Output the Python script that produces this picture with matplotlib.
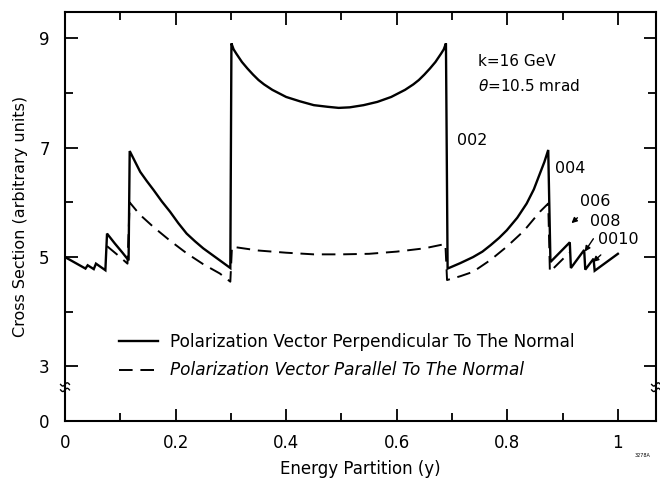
import numpy as np
import matplotlib
matplotlib.use("Agg")
import matplotlib.pyplot as plt
from matplotlib.lines import Line2D

# perpendicular polarization (solid)
perp_x = [0.000, 0.037, 0.041, 0.052, 0.056, 0.073, 0.076, 0.090, 0.104, 0.115,
          0.117, 0.125, 0.136, 0.148, 0.160, 0.175, 0.190, 0.205, 0.220, 0.235,
          0.250, 0.265, 0.280, 0.299,
          0.301, 0.305, 0.310, 0.320, 0.330, 0.340, 0.350, 0.360, 0.375, 0.400,
          0.425, 0.450, 0.475, 0.495, 0.515, 0.540, 0.565, 0.590, 0.615, 0.630,
          0.640, 0.650, 0.660, 0.670, 0.680, 0.685, 0.689,
          0.692, 0.715, 0.738, 0.755, 0.770, 0.785, 0.799, 0.818, 0.835, 0.848,
          0.859, 0.867, 0.874,
          0.878, 0.913, 0.915, 0.939, 0.941, 0.956, 0.958, 1.000]
perp_y = [5.00, 4.79, 4.85, 4.78, 4.88, 4.76, 5.43, 5.25, 5.08, 4.94,
          6.94, 6.78, 6.56, 6.39, 6.23, 6.02, 5.83, 5.62, 5.43, 5.29,
          5.16, 5.05, 4.94, 4.80,
          8.91, 8.80, 8.72, 8.57, 8.45, 8.34, 8.24, 8.16, 8.06, 7.93,
          7.85, 7.78, 7.75, 7.73, 7.74, 7.78, 7.84, 7.93, 8.06, 8.16,
          8.24, 8.34, 8.45, 8.57, 8.72, 8.80, 8.91,
          4.79, 4.89, 5.00, 5.10, 5.22, 5.35, 5.49, 5.72, 5.98, 6.24,
          6.53, 6.74, 6.96,
          4.91, 5.27, 4.80, 5.13, 4.77, 4.97, 4.75, 5.06]

# parallel polarization (dashed)
par_x = [0.076, 0.095, 0.113, 0.117, 0.135, 0.160, 0.190, 0.220, 0.250, 0.280, 0.299,
         0.302, 0.350, 0.400, 0.450, 0.500, 0.550, 0.600, 0.650, 0.688,
         0.691, 0.715, 0.738, 0.770, 0.799, 0.830, 0.859, 0.874, 0.877, 0.912]
par_y = [5.20, 5.04, 4.88, 6.00, 5.78, 5.55, 5.30, 5.07, 4.87, 4.70, 4.55,
         5.19, 5.12, 5.08, 5.05, 5.05, 5.06, 5.10, 5.16, 5.24,
         4.58, 4.65, 4.73, 4.95, 5.19, 5.48, 5.83, 5.98, 4.73, 5.08]

ytick_pos = [2.0, 3, 5, 7, 9]
ytick_lab = ['0', '3', '5', '7', '9']
xtick_pos = [0, 0.2, 0.4, 0.6, 0.8, 1.0]
xtick_lab = ['0', '0.2', '0.4', '0.6', '0.8', '1']

fig = plt.figure(figsize=(6.6, 4.79), dpi=100)
ax = fig.add_axes([0.0985, 0.121, 0.8955, 0.854])

ax.plot(perp_x, perp_y, color='black', lw=1.7, solid_joinstyle='miter')
ax.plot(par_x, par_y, color='black', lw=1.4, dashes=(7, 4))

ax.set_xlim(0, 1.069)
ax.set_ylim(2.0, 9.485)

ax.set_xticks(xtick_pos)
ax.set_xticklabels(xtick_lab)
ax.set_xticks(np.arange(0.1, 1.0, 0.2), minor=True)
ax.set_yticks(ytick_pos)
ax.set_yticklabels(ytick_lab)
ax.set_yticks([4, 6, 8], minor=True)

ax.tick_params(which='both', direction='in', top=True, right=True,
               labelsize=12, width=1.3)
ax.tick_params(which='major', length=9)
ax.tick_params(which='minor', length=6)
ax.tick_params(axis='x', pad=9)
ax.tick_params(axis='y', pad=11)
for s in ax.spines.values():
    s.set_linewidth(1.5)

ax.set_xlabel('Energy Partition (y)', fontsize=12, labelpad=6)
ax.set_ylabel('Cross Section (arbitrary units)', fontsize=11.5, labelpad=8)

# axis break marks
for xb in (0.0, 1.069):
    t = np.linspace(-0.008, 0.008, 20)
    for yb in (2.57, 2.67):
        ax.plot(xb + t, yb + 0.03 * np.sin(t / 0.008 * np.pi), color='black',
                lw=1.0, clip_on=False)

ax.text(0.747, 8.57, 'k=16 GeV', fontsize=11, va='center')
ax.text(0.747, 8.13, r'$\theta$=10.5 mrad', fontsize=11, va='center')
ax.text(0.709, 7.14, '002', fontsize=11.5, va='center')
ax.text(0.886, 6.63, '004', fontsize=11.5, va='center')
arrow = dict(arrowstyle='-|>', lw=1.0, color='black', mutation_scale=8,
             shrinkA=6, shrinkB=0)
ax.annotate('006', xy=(0.916, 5.62), xytext=(0.931, 6.01), fontsize=11.5,
            va='center', arrowprops=arrow)
ax.annotate('008', xy=(0.940, 5.10), xytext=(0.949, 5.65), fontsize=11.5,
            va='center', arrowprops=arrow)
ax.annotate('0010', xy=(0.955, 4.91), xytext=(0.964, 5.33), fontsize=11.5,
            va='center', arrowprops=arrow)

handles = [Line2D([], [], color='black', lw=1.7),
           Line2D([], [], color='black', lw=1.4, dashes=(7, 4))]
labels = ['Polarization Vector Perpendicular To The Normal',
          'Polarization Vector Parallel To The Normal']
leg = ax.legend(handles, labels, loc='center left', bbox_to_anchor=(0.091, 0.158),
                frameon=False, fontsize=12.2, handlelength=2.3, handletextpad=0.75,
                labelspacing=0.6, borderpad=0, borderaxespad=0)
leg.get_texts()[1].set_style('italic')

fig.text(0.985, 0.045, '3278A', fontsize=3.5, ha='right')

fig.savefig('out.png', dpi=100)
